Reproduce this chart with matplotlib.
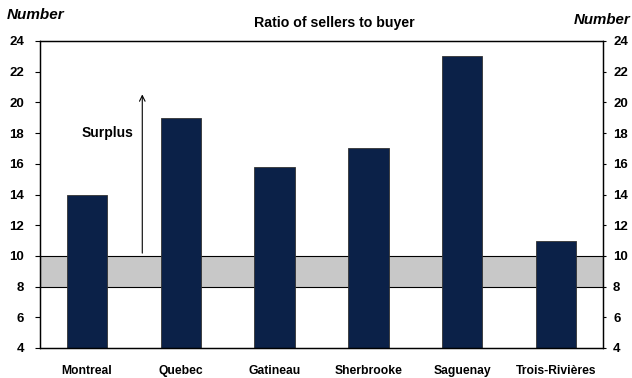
import numpy as np
import matplotlib
matplotlib.use('Agg')
import matplotlib.pyplot as plt

plt.rcParams['font.family'] = ['Liberation Sans', 'DejaVu Sans']

# data
cities = ['Montreal', 'Quebec', 'Gatineau', 'Sherbrooke', 'Saguenay', 'Trois-Rivières']
ratio = [14, 19, 15.8, 17, 23, 11]
band_low, band_high = 8, 10
yticks = [4, 6, 8, 10, 12, 14, 16, 18, 20, 22, 24]

fig = plt.figure(figsize=(6.32, 3.78), dpi=100)
ax = fig.add_axes([40 / 632, 30 / 378, 563 / 632, 307 / 378])

x = np.arange(len(cities))
# balanced band drawn behind the bars
ax.axhspan(band_low, band_high, facecolor='#c8c8c8', edgecolor='black', linewidth=0.8, zorder=1)
ax.bar(x, ratio, width=0.43, bottom=0, color='#0b2148', edgecolor='#333333', linewidth=0.6, zorder=2)

ax.set_xlim(-0.5, len(cities) - 0.5)
ax.set_ylim(4, 24)
ax.set_yticks(yticks)
ax.set_xticks(x)
ax.set_xticklabels(cities, fontsize=8.7, fontweight='bold')
ax.tick_params(axis='x', length=0, pad=12)
ax.tick_params(axis='y', direction='out', length=3.6, width=0.8, labelsize=9.5, pad=8)
for lab in ax.get_yticklabels():
    lab.set_fontweight('bold')

# right hand axis
ax2 = ax.twinx()
ax2.set_ylim(4, 24)
ax2.set_yticks(yticks)
ax2.tick_params(axis='y', direction='out', length=2.2, width=0.8, labelsize=9.5, pad=5)
for lab in ax2.get_yticklabels():
    lab.set_fontweight('bold')

for s in list(ax.spines.values()) + list(ax2.spines.values()):
    s.set_linewidth(0.9)

# surplus arrow
ax.annotate('', xy=(0.59, 20.7), xytext=(0.59, 10),
            arrowprops=dict(arrowstyle='->', color='black', lw=0.8), zorder=3)
ax.text(0.22, 18, 'Surplus', fontsize=10, fontweight='bold', ha='center', va='center')

fig.text(334 / 632, 1 - 23 / 378, 'Ratio of sellers to buyer', fontsize=10.2, fontweight='bold', ha='center', va='center')
fig.text(0.011, 1 - 15 / 378, 'Number', fontsize=11, fontweight='bold', style='italic', ha='left', va='center')
fig.text(0.998, 1 - 20 / 378, 'Number', fontsize=10.8, fontweight='bold', style='italic', ha='right', va='center')

fig.savefig('out.png', dpi=100)
